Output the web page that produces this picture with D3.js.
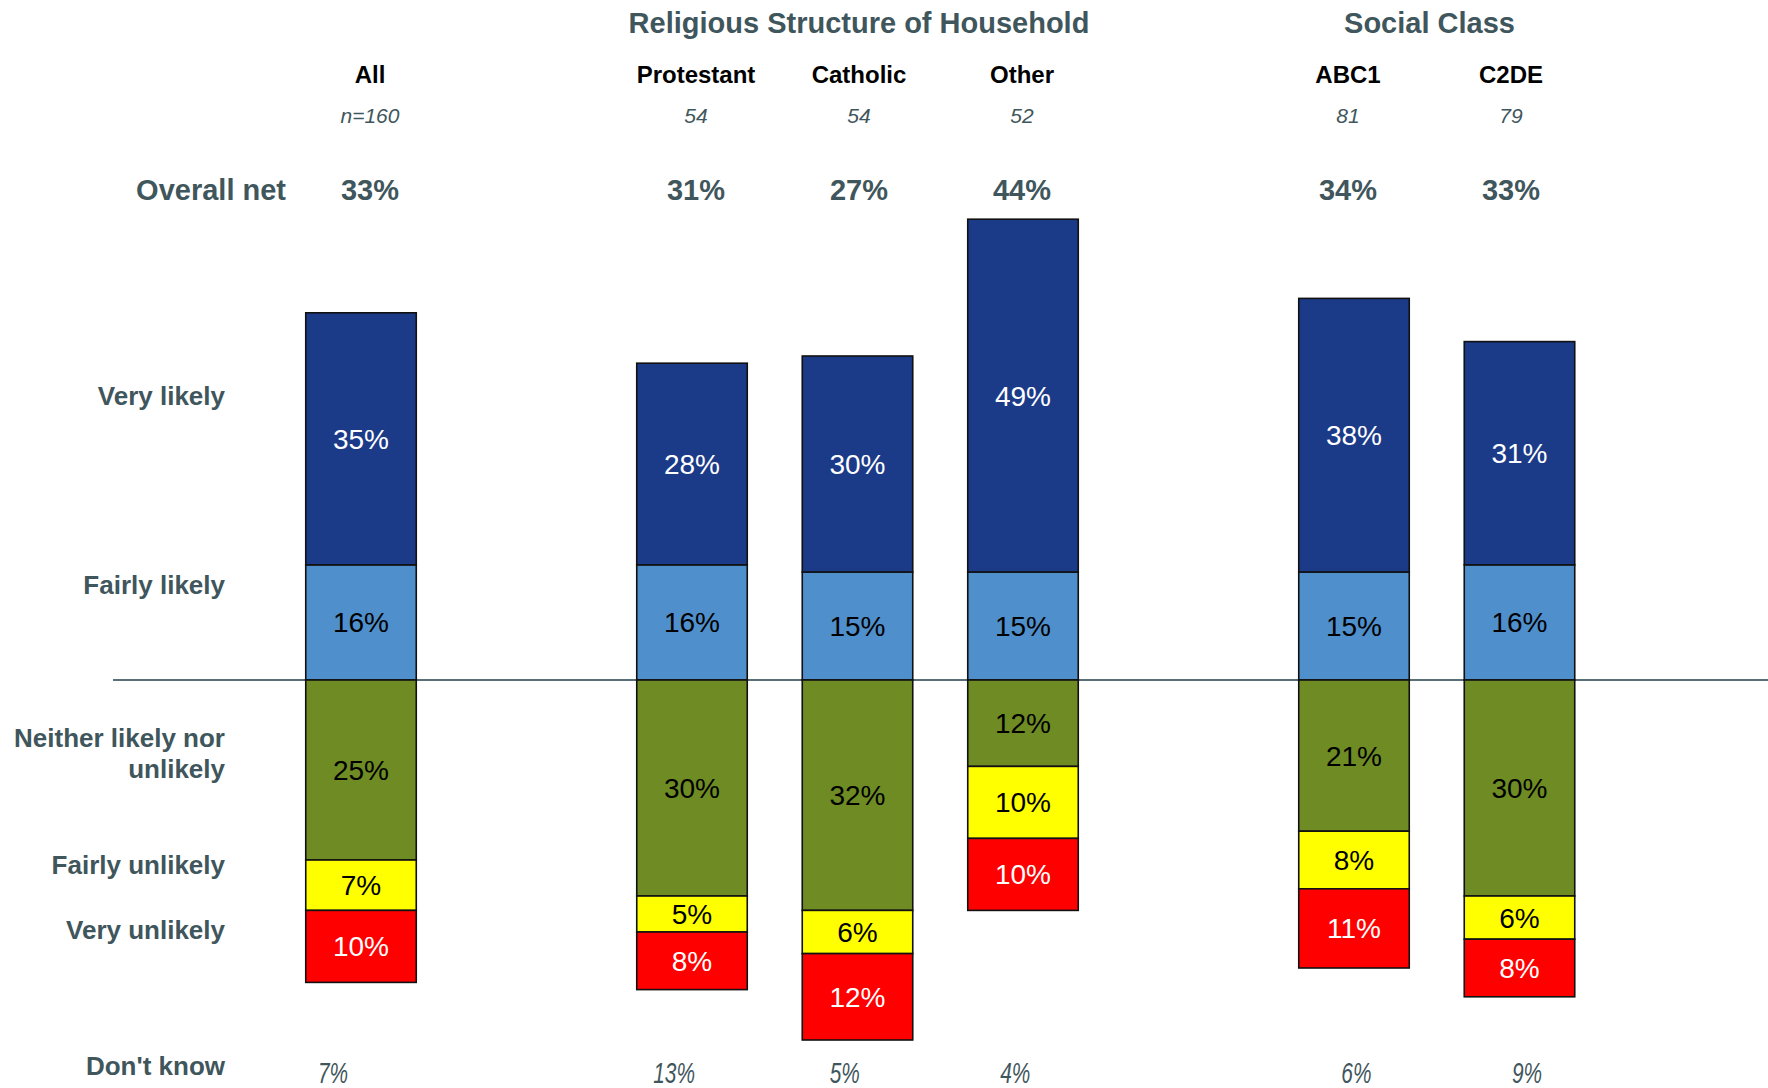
<!DOCTYPE html>
<html>
<head>
<meta charset="utf-8">
<script src="https://cdn.jsdelivr.net/npm/d3@7"></script>
<style>
  html, body { margin: 0; padding: 0; background: #fff; }
  svg { display: block; font-family: 'Liberation Sans', Arial, sans-serif; }
</style>
</head>
<body>
<svg id="chart" width="1768" height="1088"></svg>
<script>
const categories = ['All', 'Protestant', 'Catholic', 'Other', 'ABC1', 'C2DE'];
const groups = [
  ['', ['All']],
  ['Religious Structure of Household', ['Protestant', 'Catholic', 'Other']],
  ['Social Class', ['ABC1', 'C2DE']]
];
const bases = ['n=160', '54', '54', '52', '81', '79'];
const overallNet = [33, 31, 27, 44, 34, 33];

const veryLikely     = [35, 28, 30, 49, 38, 31];
const fairlyLikely   = [16, 16, 15, 15, 15, 16];
const neither        = [25, 30, 32, 12, 21, 30];
const fairlyUnlikely = [7, 5, 6, 10, 8, 6];
const veryUnlikely   = [10, 8, 12, 10, 11, 8];
const dontKnow       = [7, 13, 5, 4, 6, 9];

const responses = ['Very likely', 'Fairly likely', 'Neither likely nor unlikely', 'Fairly unlikely', 'Very unlikely'];

const SLATE = '#3f565c';
const colors = {
  'Fairly likely': '#4f8fcb',
  'Very likely': '#1b3a88',
  'Neither likely nor unlikely': '#6e8b24',
  'Fairly unlikely': '#ffff00',
  'Very unlikely': '#ff0000'
};
const labelColor = {
  'Fairly likely': '#000',
  'Very likely': '#fff',
  'Neither likely nor unlikely': '#000',
  'Fairly unlikely': '#000',
  'Very unlikely': '#fff'
};

// rows for d3.stack, negatives for the "unlikely" side
const rows = categories.map((c, i) => ({
  cat: c,
  'Fairly likely': fairlyLikely[i],
  'Very likely': veryLikely[i],
  'Neither likely nor unlikely': -neither[i],
  'Fairly unlikely': -fairlyUnlikely[i],
  'Very unlikely': -veryUnlikely[i]
}));
const keys = ['Fairly likely', 'Very likely', 'Neither likely nor unlikely', 'Fairly unlikely', 'Very unlikely'];
const series = d3.stack().keys(keys).offset(d3.stackOffsetDiverging)(rows);

// slot domain with a spacer between groups
const slots = [];
groups.forEach(([, cats], gi) => {
  if (gi > 0) slots.push('_gap' + gi);
  cats.forEach(c => slots.push(c));
});

const svg = d3.select('#chart');
const x = d3.scaleBand().domain(slots).range([305.75, 1574.75]).paddingInner(0.3323).paddingOuter(0);
const xHead = d3.scalePoint().domain(slots).range([370, 1511]);
const xDk = d3.scalePoint().domain(slots).range([333, 1527]);
const y = d3.scaleLinear().domain([-60, 70]).range([680 + 60 * 7.2, 680 - 70 * 7.2]);

// zero line
svg.append('line')
  .attr('x1', 113).attr('x2', 1768)
  .attr('y1', y(0)).attr('y2', y(0))
  .attr('stroke', '#5b6f76').attr('stroke-width', 2);

// bars
const layer = svg.selectAll('g.layer')
  .data(series)
  .join('g')
  .attr('class', 'layer');

layer.selectAll('rect')
  .data(s => s.map(d => ({ key: s.key, d })))
  .join('rect')
  .attr('x', o => x(o.d.data.cat))
  .attr('width', x.bandwidth())
  .attr('y', o => y(Math.max(o.d[0], o.d[1])))
  .attr('height', o => Math.abs(y(o.d[0]) - y(o.d[1])))
  .attr('fill', o => colors[o.key])
  .attr('stroke', '#111')
  .attr('stroke-width', 1.6);

layer.selectAll('text')
  .data(s => s.map(d => ({ key: s.key, d })))
  .join('text')
  .attr('x', o => x(o.d.data.cat) + x.bandwidth() / 2)
  .attr('y', o => (y(o.d[0]) + y(o.d[1])) / 2)
  .attr('dy', '0.36em')
  .attr('text-anchor', 'middle')
  .attr('font-size', 28)
  .attr('fill', o => labelColor[o.key])
  .text(o => Math.abs(o.d.data[o.key]) + '%');

// group titles
groups.forEach(([name, cats]) => {
  if (!name) return;
  const cx = (xHead(cats[0]) + xHead(cats[cats.length - 1])) / 2;
  svg.append('text')
    .attr('x', cx).attr('y', 33)
    .attr('text-anchor', 'middle')
    .attr('font-size', 29).attr('font-weight', 'bold')
    .attr('fill', SLATE)
    .text(name);
});

// column headers, bases, overall net
const head = svg.append('g').selectAll('g')
  .data(categories)
  .join('g');

head.append('text')
  .attr('x', c => xHead(c)).attr('y', 83)
  .attr('text-anchor', 'middle')
  .attr('font-size', 24).attr('font-weight', 'bold')
  .attr('fill', '#000')
  .text(c => c);

head.append('text')
  .attr('x', c => xHead(c)).attr('y', 123)
  .attr('text-anchor', 'middle')
  .attr('font-size', 21).attr('font-style', 'italic')
  .attr('fill', SLATE)
  .text((c, i) => bases[i]);

head.append('text')
  .attr('x', c => xHead(c)).attr('y', 200)
  .attr('text-anchor', 'middle')
  .attr('font-size', 29).attr('font-weight', 'bold')
  .attr('fill', SLATE)
  .text((c, i) => overallNet[i] + '%');

// don't know values (condensed italic)
svg.append('g').selectAll('text')
  .data(categories)
  .join('text')
  .attr('transform', c => `translate(${xDk(c)},1083) scale(0.72,1)`)
  .attr('text-anchor', 'middle')
  .attr('font-size', 29).attr('font-style', 'italic')
  .attr('fill', SLATE)
  .text((c, i) => dontKnow[i] + '%');

// row labels
const rowLabels = [
  { lines: ['Overall net'], y: 200, size: 29, right: 286 },
  { lines: ['Very likely'], y: 405 },
  { lines: ['Fairly likely'], y: 594 },
  { lines: ['Neither likely nor', 'unlikely'], y: 747 },
  { lines: ['Fairly unlikely'], y: 874 },
  { lines: ['Very unlikely'], y: 939 },
  { lines: ["Don't know"], y: 1075 }
];
rowLabels.forEach(r => {
  const t = svg.append('text')
    .attr('text-anchor', 'end')
    .attr('font-size', r.size || 26).attr('font-weight', 'bold')
    .attr('fill', SLATE);
  r.lines.forEach((ln, k) => {
    t.append('tspan')
      .attr('x', r.right || 225)
      .attr('y', r.y + k * 31)
      .text(ln);
  });
});
</script>
</body>
</html>
